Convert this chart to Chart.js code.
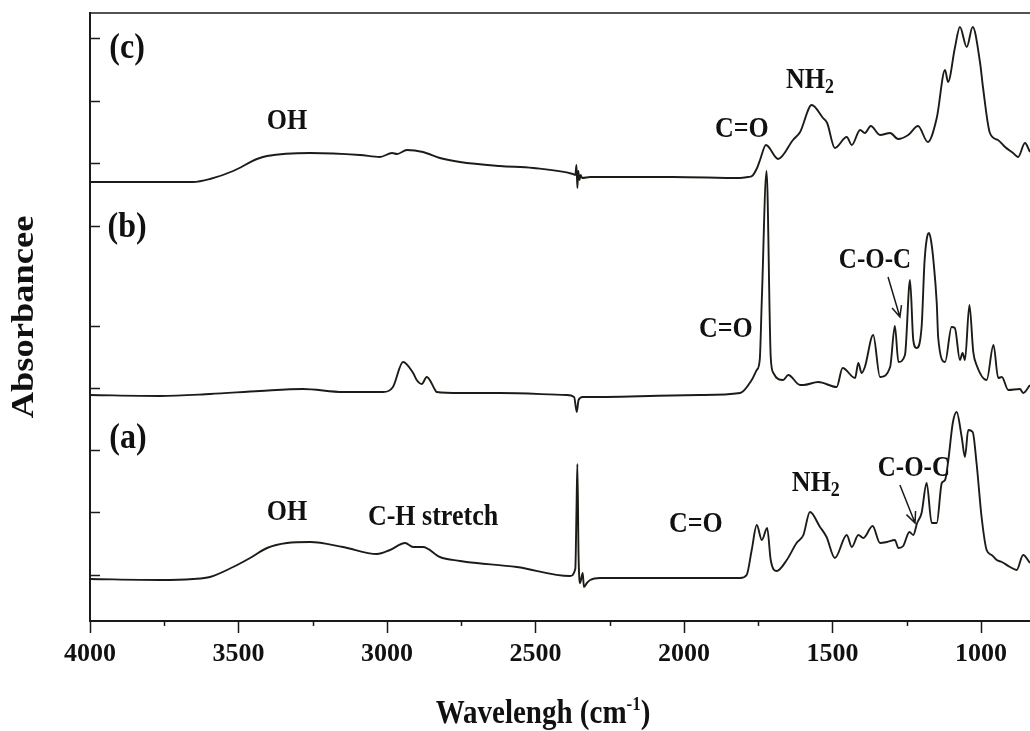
<!DOCTYPE html>
<html>
<head>
<meta charset="utf-8">
<script src="https://cdn.jsdelivr.net/npm/chart.js@4/dist/chart.umd.min.js"></script>
<style>
  html, body { margin: 0; padding: 0; background: #fff; }
  #wrap { width: 1030px; height: 731px; }
</style>
</head>
<body>
<div id="wrap"><canvas id="ftir" width="1030" height="731"></canvas></div>
<script>
// FTIR spectra, stacked with vertical offsets (arbitrary absorbance units)
// (c) top trace
const cWave = [4000, 3653, 3596, 3518, 3438, 3404, 3259, 3091, 3024, 2983, 2966, 2933, 2879, 2822, 2754, 2620, 2508, 2374, 2366, 2362, 2359, 2356, 2352, 2348, 2343, 2316, 2037, 1811, 1784, 1771, 1754, 1744, 1724, 1683, 1633, 1609, 1570, 1532, 1518, 1492, 1452, 1435, 1407, 1391, 1371, 1340, 1306, 1279, 1245, 1212, 1179, 1149, 1121, 1111, 1088, 1071, 1048, 1028, 1003, 993, 970, 943, 919, 892, 875, 852, 835];
const cAbs  = [439, 439, 442, 450, 462, 465, 468, 466, 464, 468, 467, 471, 469, 463, 459, 455, 453, 447, 446, 456, 433, 450, 441, 446, 443, 444, 444, 443, 444, 445, 453, 461, 476, 462, 481, 489, 516, 503, 498, 473, 484, 476, 491, 488, 495, 486, 488, 482, 486, 495, 479, 503, 551, 539, 573, 594, 574, 594, 558, 533, 488, 481, 474, 468, 464, 478, 469];

// (b) middle trace
const bWave = [4000, 3764, 3596, 3428, 3283, 3148, 3013, 2980, 2946, 2912, 2900, 2883, 2866, 2838, 2833, 2754, 2620, 2395, 2370, 2361, 2355, 2341, 2327, 1946, 1811, 1772, 1755, 1745, 1738, 1722, 1708, 1699, 1666, 1649, 1609, 1598, 1548, 1486, 1466, 1424, 1413, 1402, 1391, 1363, 1340, 1306, 1290, 1278, 1256, 1239, 1228, 1217, 1200, 1190, 1180, 1175, 1168, 1160, 1149, 1144, 1121, 1099, 1088, 1071, 1062, 1054, 1039, 1026, 1015, 981, 958, 942, 930, 908, 869, 858, 835];
const bAbs  = [226, 225, 227, 230, 232, 229, 229, 234, 259, 248, 241, 237, 244, 231, 229, 228, 228, 226, 224, 209, 221, 224, 224, 226, 228, 241, 251, 261, 321, 450, 264, 248, 241, 246, 236, 236, 239, 234, 253, 243, 258, 248, 254, 286, 244, 254, 295, 259, 266, 341, 281, 273, 294, 360, 386, 388, 380, 360, 318, 283, 259, 294, 293, 261, 268, 261, 316, 269, 256, 241, 276, 243, 244, 231, 232, 228, 236];

// (a) bottom trace
const aWave = [4000, 3764, 3653, 3596, 3518, 3461, 3404, 3337, 3259, 3148, 3034, 2990, 2939, 2912, 2879, 2822, 2754, 2732, 2563, 2384, 2366, 2362, 2359, 2355, 2350, 2341, 2337, 2327, 2316, 2283, 1946, 1811, 1789, 1772, 1755, 1738, 1720, 1708, 1688, 1654, 1621, 1598, 1576, 1542, 1520, 1492, 1452, 1435, 1413, 1396, 1365, 1340, 1317, 1290, 1278, 1262, 1241, 1228, 1215, 1200, 1183, 1166, 1149, 1132, 1121, 1110, 1095, 1082, 1065, 1054, 1043, 1028, 1015, 998, 981, 964, 947, 930, 902, 880, 858, 835];
const aAbs  = [42, 41, 42, 44, 54, 63, 73, 78, 79, 74, 67, 71, 78, 74, 74, 64, 60, 59, 54, 45, 52, 110, 157, 65, 38, 48, 34, 38, 41, 43, 43, 43, 46, 71, 96, 81, 93, 61, 50, 61, 78, 86, 109, 94, 84, 63, 86, 74, 86, 83, 95, 78, 79, 81, 73, 75, 89, 86, 98, 108, 138, 98, 98, 138, 141, 161, 198, 209, 184, 164, 191, 189, 158, 104, 71, 66, 61, 59, 54, 51, 66, 58];

// axis ticks
const xMajorTicks = [4000, 3500, 3000, 2500, 2000, 1500, 1000];
const xMinorTicks = [3750, 3250, 2750, 2250, 1750, 1250];
const yTickValues = [46, 109, 171, 233, 295, 395, 458, 520, 583];

// peak assignments and panel tags, placed in data coordinates
const labels = [
  { text: '(c)', wn: 3875, v: 572, size: 32 },
  { text: '(b)', wn: 3875, v: 393, size: 32 },
  { text: '(a)', wn: 3872, v: 182, size: 32 },
  { text: 'OH', wn: 3337, v: 500, size: 26 },
  { text: 'OH', wn: 3337, v: 109, size: 26 },
  { text: 'C-H stretch', wn: 2845, v: 104, size: 26 },
  { text: 'C=O', wn: 1805, v: 492, size: 26 },
  { text: 'C=O', wn: 1859, v: 292, size: 26 },
  { text: 'C=O', wn: 1960, v: 97, size: 26 },
  { text: 'NH', sub: '2', wn: 1576, v: 541, size: 26 },
  { text: 'NH', sub: '2', wn: 1556, v: 138, size: 26 },
  { text: 'C-O-C', wn: 1357, v: 360, size: 25 },
  { text: 'C-O-C', wn: 1226, v: 152, size: 25 }
];
const arrows = [
  { from: [1313, 344], to: [1273, 304] },
  { from: [1273, 136], to: [1222, 98] }
];

const SERIF = "'Liberation Serif', 'Times New Roman', serif";
const INK = '#1c1c17';
const TALL = 1.14;   // glyphs are set slightly taller than wide

function toPoints(wave, abs) {
  return wave.map((w, i) => ({ x: w, y: abs[i] }));
}

const traceStyle = {
  borderColor: INK,
  borderWidth: 1.9,
  pointRadius: 0,
  fill: false,
  cubicInterpolationMode: 'monotone'
};

// draw text centred at (x, y) with a vertical stretch
function tallText(ctx, str, x, y, align) {
  ctx.save();
  ctx.translate(x, y);
  ctx.scale(1, TALL);
  ctx.textAlign = align || 'center';
  ctx.fillText(str, 0, 0);
  ctx.restore();
}

const decorations = {
  id: 'decorations',
  afterDraw(chart) {
    const { ctx, chartArea, scales } = chart;
    const xs = scales.x, ys = scales.y;
    ctx.save();
    ctx.strokeStyle = '#1a1a1a';
    ctx.fillStyle = '#111';

    // frame top line
    ctx.lineWidth = 1.6;
    ctx.beginPath();
    ctx.moveTo(chartArea.left, chartArea.top);
    ctx.lineTo(chartArea.right, chartArea.top);
    ctx.stroke();

    // x ticks, outward
    ctx.lineWidth = 1.5;
    xMajorTicks.forEach(v => {
      const px = Math.round(xs.getPixelForValue(v)) + 0.5;
      ctx.beginPath();
      ctx.moveTo(px, chartArea.bottom);
      ctx.lineTo(px, chartArea.bottom + 12);
      ctx.stroke();
    });
    xMinorTicks.forEach(v => {
      const px = Math.round(xs.getPixelForValue(v)) + 0.5;
      ctx.beginPath();
      ctx.moveTo(px, chartArea.bottom);
      ctx.lineTo(px, chartArea.bottom + 5);
      ctx.stroke();
    });

    // y ticks, inward
    yTickValues.forEach(v => {
      const py = Math.round(ys.getPixelForValue(v)) + 0.5;
      ctx.beginPath();
      ctx.moveTo(chartArea.left, py);
      ctx.lineTo(chartArea.left + 10, py);
      ctx.stroke();
    });

    // peak labels
    ctx.textBaseline = 'middle';
    labels.forEach(l => {
      const px = xs.getPixelForValue(l.wn);
      const py = ys.getPixelForValue(l.v);
      const font = `bold ${l.size}px ${SERIF}`;
      ctx.font = font;
      if (l.sub) {
        const w1 = ctx.measureText(l.text).width;
        const subFont = `bold ${Math.round(l.size * 0.68)}px ${SERIF}`;
        ctx.font = subFont;
        const w2 = ctx.measureText(l.sub).width;
        const start = px - (w1 + w2) / 2;
        ctx.font = font;
        tallText(ctx, l.text, start, py, 'left');
        ctx.font = subFont;
        tallText(ctx, l.sub, start + w1, py + 8, 'left');
      } else {
        tallText(ctx, l.text, px, py, 'center');
      }
    });

    // arrows
    ctx.lineWidth = 1.5;
    arrows.forEach(a => {
      const x1 = xs.getPixelForValue(a.from[0]), y1 = ys.getPixelForValue(a.from[1]);
      const x2 = xs.getPixelForValue(a.to[0]), y2 = ys.getPixelForValue(a.to[1]);
      ctx.beginPath();
      ctx.moveTo(x1, y1);
      ctx.lineTo(x2, y2);
      const ang = Math.atan2(y2 - y1, x2 - x1);
      const head = 12, spread = 0.42;
      ctx.moveTo(x2 - head * Math.cos(ang - spread), y2 - head * Math.sin(ang - spread));
      ctx.lineTo(x2, y2);
      ctx.lineTo(x2 - head * Math.cos(ang + spread), y2 - head * Math.sin(ang + spread));
      ctx.stroke();
    });

    // y axis title (stretched along its length, since it is rotated)
    ctx.save();
    ctx.translate(25, (chartArea.top + chartArea.bottom) / 2);
    ctx.scale(1, TALL);
    ctx.rotate(-Math.PI / 2);
    ctx.textAlign = 'center';
    ctx.textBaseline = 'middle';
    ctx.font = `bold 32px ${SERIF}`;
    ctx.fillText('Absorbancee', 0, 0);
    ctx.restore();

    // x axis title with superscript
    const mainFont = `bold 29px ${SERIF}`;
    const supFont = `bold 17px ${SERIF}`;
    ctx.font = mainFont;
    const part1 = 'Wavelengh (cm', part3 = ')';
    const w1 = ctx.measureText(part1).width;
    const w3 = ctx.measureText(part3).width;
    ctx.font = supFont;
    const w2 = ctx.measureText('-1').width;
    const total = w1 + w2 + w3;
    const startX = 543 - total / 2;
    const base = 723;
    ctx.textBaseline = 'alphabetic';
    ctx.font = mainFont;
    tallText(ctx, part1, startX, base, 'left');
    ctx.font = supFont;
    tallText(ctx, '-1', startX + w1, base - 13, 'left');
    ctx.font = mainFont;
    tallText(ctx, part3, startX + w1 + w2, base, 'left');

    ctx.restore();
  }
};

new Chart(document.getElementById('ftir'), {
  type: 'line',
  data: {
    datasets: [
      Object.assign({ label: '(c)', data: toPoints(cWave, cAbs) }, traceStyle),
      Object.assign({ label: '(b)', data: toPoints(bWave, bAbs) }, traceStyle),
      Object.assign({ label: '(a)', data: toPoints(aWave, aAbs) }, traceStyle)
    ]
  },
  options: {
    responsive: false,
    animation: false,
    devicePixelRatio: 1,
    layout: { padding: { top: 13, right: 0, bottom: 0, left: 0 } },
    plugins: { legend: { display: false }, tooltip: { enabled: false } },
    scales: {
      x: {
        type: 'linear',
        reverse: true,
        min: 835,
        max: 4000,
        afterBuildTicks(scale) {
          scale.ticks = xMajorTicks.map(v => ({ value: v }));
        },
        afterFit(scale) { scale.height = 110; },
        grid: { display: false, drawTicks: false },
        border: { display: true, color: '#1a1a1a', width: 2 },
        ticks: {
          autoSkip: false,
          maxRotation: 0,
          padding: 18,
          color: '#111',
          font: { family: SERIF, size: 26, weight: 'bold' },
          callback: v => String(v)
        }
      },
      y: {
        type: 'linear',
        min: 0,
        max: 608,
        afterFit(scale) { scale.width = 90; },
        grid: { display: false, drawTicks: false },
        border: { display: true, color: '#1a1a1a', width: 2 },
        ticks: { display: false }
      }
    }
  },
  plugins: [decorations]
});
</script>
</body>
</html>
